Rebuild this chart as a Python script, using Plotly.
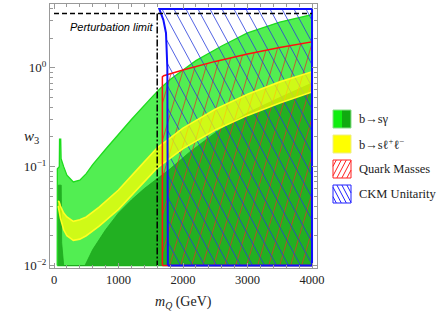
import numpy as np
import plotly.graph_objects as go

# ---------------- data ----------------
x_tick_vals = [0, 1000, 2000, 3000, 4000]
y_tick_vals = [0.01, 0.1, 1.0]
y_tick_text = ["10<sup>\u22122</sup>", "10<sup>\u22121</sup>", "10<sup>0</sup>"]

# b -> s gamma : outer (light green) region, upper boundary
bsg_m = [50, 52, 82, 86, 104, 110, 150, 200, 300, 400, 500, 600, 800, 1000, 1200,
         1500, 1650, 1800, 2200, 2600, 3000, 3500, 4000]
bsg_hi = [0.01, 0.095, 0.1, 0.19, 0.19, 0.12, 0.1, 0.082, 0.07, 0.073, 0.085, 0.105, 0.15,
          0.215, 0.3, 0.49, 0.62, 0.76, 1.18, 1.66, 2.25, 2.9, 3.45]
# b -> s gamma : inner (dark green) region, upper boundary
bsg_dark_m = [67, 68, 112, 119, 150, 480, 600, 800, 1000, 1200, 1400, 1600, 1800, 2100,
              2500, 3000, 3500, 4000]
bsg_dark_hi = [0.01, 0.065, 0.065, 0.017, 0.01, 0.01, 0.0145, 0.023, 0.034, 0.046, 0.06,
               0.075, 0.095, 0.14, 0.22, 0.35, 0.5, 0.7]

# b -> s l+ l- : yellow band
bsll_m = [65, 80, 100, 150, 200, 300, 400, 500, 700, 1000, 1300, 1600, 2000, 2500, 3000,
          3500, 4000]
bsll_hi = [0.045, 0.044, 0.04, 0.034, 0.031, 0.028, 0.029, 0.031, 0.039, 0.058, 0.095,
           0.155, 0.245, 0.38, 0.54, 0.72, 0.91]
bsll_lo = [0.04, 0.035, 0.03, 0.023, 0.02, 0.018, 0.0185, 0.02, 0.025, 0.037, 0.06,
           0.097, 0.152, 0.235, 0.33, 0.44, 0.57]

# Quark masses region (upper boundary)
qm_m = [1680, 1680, 1700, 2000, 2500, 3000, 3500, 4000]
qm_hi = [0.01, 0.81, 0.83, 0.95, 1.16, 1.38, 1.6, 1.83]

# CKM unitarity region (left edge given as w -> mQ, flat top)
ckm_edge_w = [0.01, 1.0, 2.25, 3.05, 3.92]
ckm_edge_m = [1765, 1757, 1736, 1695, 1633]
ckm_top = 3.92
ckm_right = 4000

# perturbativity limits
pert_w = 3.54
pert_m_max = 4000
pert_m_vert = 1600

w_floor = 0.01

legend_labels = ["b\u2192s\u03b3", "b\u2192s\u2113<sup>+</sup>\u2113<sup>\u2212</sup>",
                 "Quark Masses", "CKM Unitarity"]

# ---------------- geometry helpers ----------------
W, H = 442, 314
L, R, T, B = 50, 317, 4, 268
XR = [-62, 4077]
YR = [-2.025, 0.645]


def data_x(X):
    return XR[0] + (X - L) / (R - L) * (XR[1] - XR[0])


def data_ly(Y):
    return YR[0] + (B - Y) / (B - T) * (YR[1] - YR[0])


def paper(px, py):
    return (px - L) / (R - L), (B - py) / (B - T)


def hatch(inside, slope, spacing):
    X = np.arange(L, R + 0.001, 0.05)
    xs, ys = [], []
    step = abs(slope) * spacing
    for c in np.arange(-2000, 2000, step):
        Y = c + slope * X
        m = data_x(X)
        ly = data_ly(Y)
        mask = (Y >= T) & (Y <= B) & inside(m, ly)
        if not mask.any():
            continue
        d = np.diff(np.concatenate([[0], mask.astype(int), [0]]))
        starts = np.where(d == 1)[0]
        ends = np.where(d == -1)[0] - 1
        for s, e in zip(starts, ends):
            if e <= s:
                continue
            xs += [m[s], m[e], None]
            ys += [10 ** ly[s], 10 ** ly[e], None]
    return xs, ys


lf = np.log10(w_floor)


def in_quark(m, ly):
    top = np.interp(m, qm_m[1:], np.log10(qm_hi[1:]))
    return (m >= qm_m[0]) & (m <= qm_m[-1]) & (ly >= lf) & (ly <= top)


def in_ckm(m, ly):
    left = np.interp(ly, np.log10(ckm_edge_w), ckm_edge_m)
    return (m >= left) & (m <= ckm_right) & (ly >= lf) & (ly <= np.log10(ckm_top))


fig = go.Figure()

LIGHT = "#52ee52"
DARK = "#22b022"


def region(ms, hi, lo=None, **kw):
    ms = list(ms)
    if lo is None:
        lo = [w_floor] * len(ms)
    return go.Scatter(x=ms + ms[::-1], y=list(hi) + list(lo)[::-1], fill="toself",
                      mode="lines", showlegend=False, hoverinfo="skip", **kw)


# light green
fig.add_trace(region(bsg_m, bsg_hi, fillcolor=LIGHT, line=dict(color="#1ddc1d", width=1.3)))
# dark green
fig.add_trace(region(bsg_dark_m, bsg_dark_hi, fillcolor=DARK, line=dict(color="#1ea81e", width=0.8)))

# hatches
hx, hy = hatch(in_quark, -3.4, 11)
fig.add_trace(go.Scatter(x=hx, y=hy, mode="lines", line=dict(color="rgba(225,50,40,0.75)", width=1),
                         showlegend=False, hoverinfo="skip"))
hx, hy = hatch(in_ckm, 1.85, 12)
fig.add_trace(go.Scatter(x=hx, y=hy, mode="lines", line=dict(color="rgba(40,60,220,0.8)", width=1),
                         showlegend=False, hoverinfo="skip"))

# yellow band
fig.add_trace(region(bsll_m, bsll_hi, bsll_lo, fillcolor="rgba(255,255,0,0.72)",
                     line=dict(color="#ffff22", width=1.6)))

# quark-mass outline
qx = list(qm_m) + [qm_m[-1], qm_m[0]]
qy = list(qm_hi) + [w_floor, w_floor]
fig.add_trace(go.Scatter(x=qx, y=qy, mode="lines", line=dict(color="#ff1010", width=1.5),
                         showlegend=False, hoverinfo="skip"))

# CKM outline
cx = list(ckm_edge_m) + [ckm_right, ckm_right, ckm_edge_m[0]]
cy = list(ckm_edge_w) + [ckm_top, w_floor, w_floor]
fig.add_trace(go.Scatter(x=cx, y=cy, mode="lines", line=dict(color="#1010ff", width=2),
                         showlegend=False, hoverinfo="skip"))

# perturbation limit lines
fig.add_trace(go.Scatter(x=[0, pert_m_max], y=[pert_w, pert_w], mode="lines",
                         line=dict(color="black", width=1.5, dash="5px,3px"),
                         showlegend=False, hoverinfo="skip"))
fig.add_trace(go.Scatter(x=[pert_m_vert, pert_m_vert], y=[pert_w, w_floor], mode="lines",
                         line=dict(color="black", width=1.5, dash="7px,2px,2px,2px"),
                         showlegend=False, hoverinfo="skip"))

SERIF = "Liberation Serif, Times New Roman, serif"
annotations = []
px_, py_ = paper(111.5, 27)
annotations.append(dict(x=px_, y=py_, xref="paper", yref="paper", showarrow=False,
                        xanchor="center", yanchor="middle",
                        text="<i>Perturbation limit</i>",
                        font=dict(family="Liberation Sans, Arial", size=11, color="black")))
px_, py_ = paper(31, 137)
annotations.append(dict(x=px_, y=py_, xref="paper", yref="paper", showarrow=False,
                        xanchor="center", yanchor="middle",
                        text="<i>w</i><sub>3</sub>", font=dict(family=SERIF, size=15, color="#222")))
px_, py_ = paper(183, 302)
annotations.append(dict(x=px_, y=py_, xref="paper", yref="paper", showarrow=False,
                        xanchor="center", yanchor="middle",
                        text="<i>m</i><sub><i>Q</i></sub> (GeV)",
                        font=dict(family=SERIF, size=14, color="#222")))

# ---------------- manual legend ----------------
shapes = []
rows = [119, 144, 169, 194]
sx0, sx1 = 333, 351
for i, (cy_, lab) in enumerate(zip(rows, legend_labels)):
    y0, y1 = cy_ - 9, cy_ + 9
    a, b = paper(sx0, y1)
    c, d = paper(sx1, y0)
    if i == 0:
        mid = paper((sx0 + sx1) / 2, y0)[0]
        shapes.append(dict(type="rect", xref="paper", yref="paper", x0=a, y0=b, x1=mid, y1=d,
                           fillcolor="#10ee10", line=dict(width=0)))
        shapes.append(dict(type="rect", xref="paper", yref="paper", x0=mid, y0=b, x1=c, y1=d,
                           fillcolor="#10aa10", line=dict(width=0)))
        shapes.append(dict(type="rect", xref="paper", yref="paper", x0=a, y0=b, x1=c, y1=d,
                           fillcolor="rgba(0,0,0,0)", line=dict(color="#88dd88", width=1)))
    elif i == 1:
        shapes.append(dict(type="rect", xref="paper", yref="paper", x0=a, y0=b, x1=c, y1=d,
                           fillcolor="#ffff00", line=dict(color="#eeee88", width=1)))
    else:
        col = "#ff2020" if i == 2 else "#2020ff"
        slope = -1.9 if i == 2 else 1.9
        Xs = np.arange(sx0, sx1 + 0.001, 0.05)
        for cc in np.arange(-1500, 1500, abs(slope) * 5):
            Ys = cc + slope * Xs
            msk = (Ys >= y0) & (Ys <= y1)
            if msk.sum() < 3:
                continue
            idx = np.where(msk)[0]
            p0 = paper(Xs[idx[0]], Ys[idx[0]])
            p1 = paper(Xs[idx[-1]], Ys[idx[-1]])
            shapes.append(dict(type="line", xref="paper", yref="paper", x0=p0[0], y0=p0[1],
                               x1=p1[0], y1=p1[1], line=dict(color=col, width=1)))
        shapes.append(dict(type="rect", xref="paper", yref="paper", x0=a, y0=b, x1=c, y1=d,
                           fillcolor="rgba(0,0,0,0)", line=dict(color=col, width=1)))
    tx, ty = paper(357, cy_)
    annotations.append(dict(x=tx, y=ty, xref="paper", yref="paper", showarrow=False,
                            xanchor="left", yanchor="middle", text=lab,
                            font=dict(family=SERIF, size=12.5, color="#222")))

minor_y = [k * 10.0 ** e for e in (-2, -1, 0) for k in range(2, 10)]

fig.update_layout(
    width=W, height=H,
    margin=dict(l=L, r=W - R, t=T, b=H - B),
    paper_bgcolor="white", plot_bgcolor="white",
    showlegend=False,
    shapes=shapes, annotations=annotations,
    xaxis=dict(range=XR, tickvals=x_tick_vals, ticks="inside", ticklen=5, tickcolor="#999",
               showline=True, linecolor="#999", linewidth=1, mirror="ticks",
               showgrid=False, zeroline=False,
               minor=dict(dtick=200, ticks="inside", ticklen=3, tickcolor="#999", showgrid=False),
               tickfont=dict(family=SERIF, size=12.5, color="#222")),
    yaxis=dict(type="log", range=YR, tickvals=y_tick_vals, ticktext=y_tick_text,
               ticks="inside", ticklen=5, tickcolor="#999",
               showline=True, linecolor="#999", linewidth=1, mirror="ticks",
               showgrid=False, zeroline=False,
               minor=dict(tickvals=minor_y, ticks="inside", ticklen=3, tickcolor="#999", showgrid=False),
               tickfont=dict(family=SERIF, size=13, color="#222")),
)

fig.write_html("out.html", config={"displayModeBar": False},
               post_script="document.body.style.margin='0px';document.body.style.overflow='hidden';")
